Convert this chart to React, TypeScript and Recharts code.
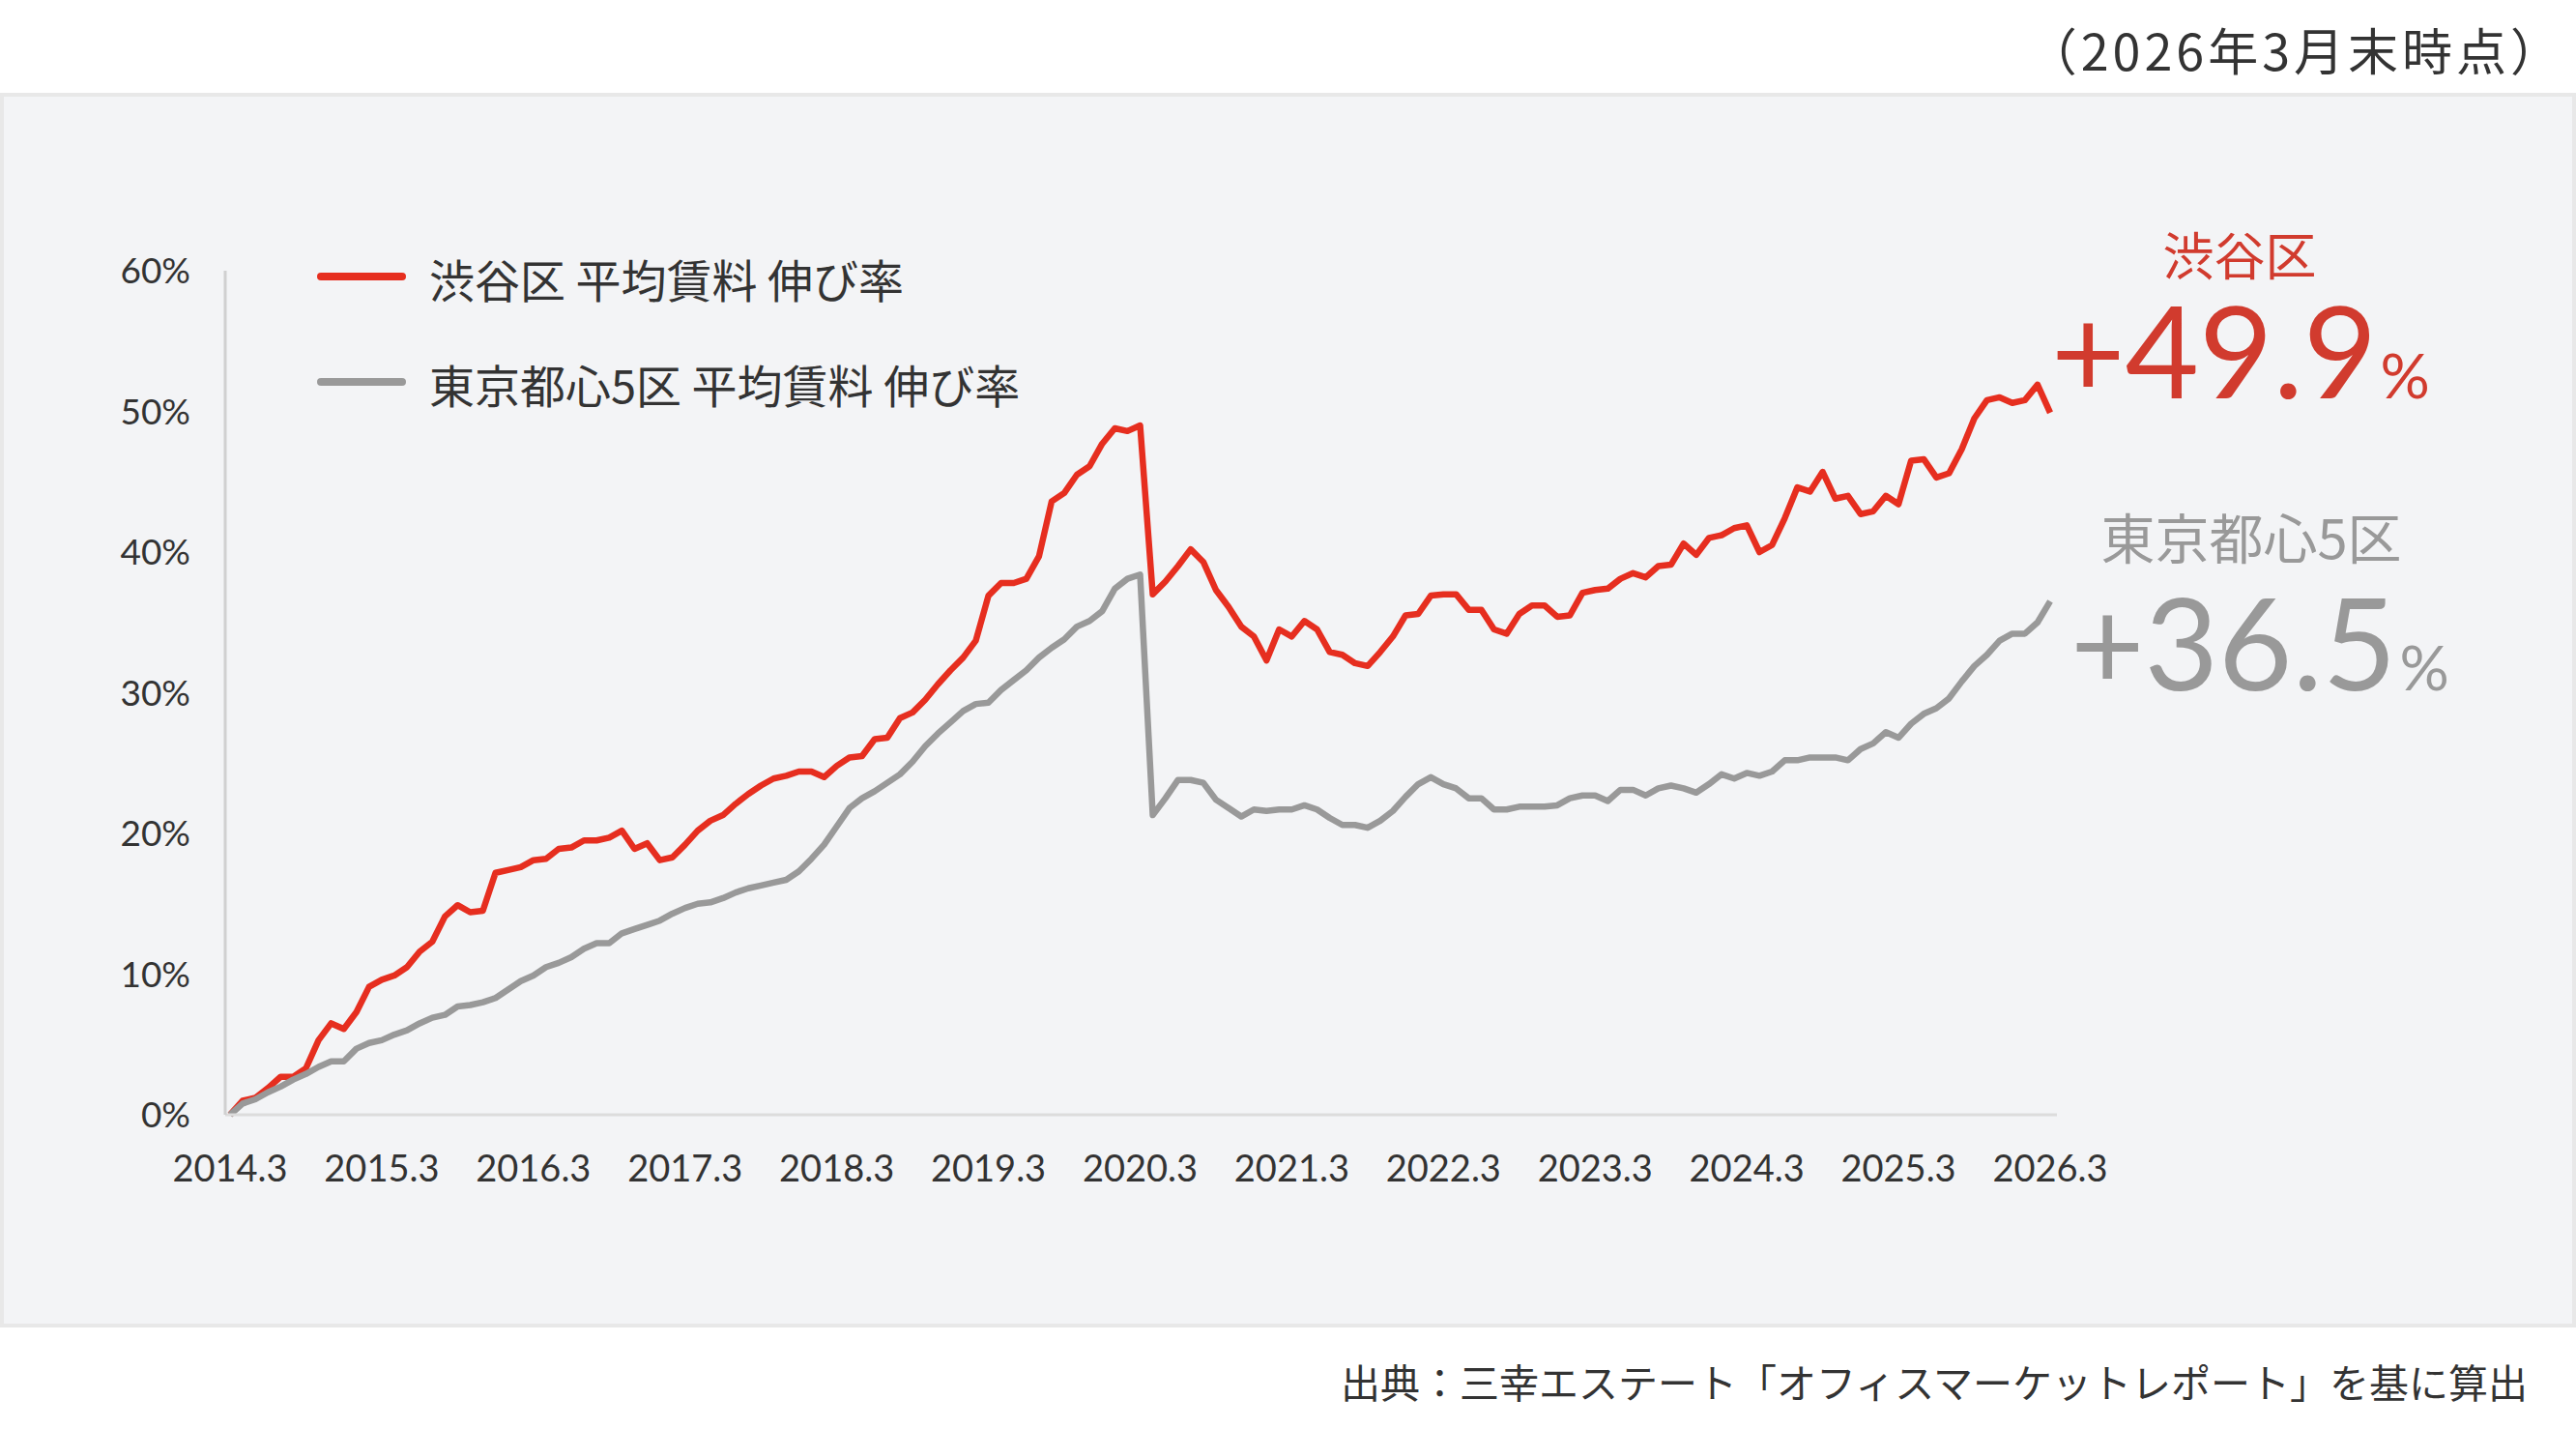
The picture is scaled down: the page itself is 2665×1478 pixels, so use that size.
import React from "react";
import { LineChart, Line, XAxis, YAxis } from "recharts";

// 月次の伸び率（%）2014.3 起点
const startYear = 2014;
const startMonth = 3;

const shibuya = [
  0, 1.0, 1.2, 1.9, 2.7, 2.7, 3.3, 5.3, 6.5, 6.1, 7.3, 9.1,
  9.6, 9.9, 10.5, 11.6, 12.3, 14.1, 14.9, 14.4, 14.5, 17.2, 17.4, 17.6,
  18.1, 18.2, 18.9, 19.0, 19.5, 19.5, 19.7, 20.2, 18.9, 19.3, 18.1, 18.3,
  19.2, 20.2, 20.9, 21.3, 22.1, 22.8, 23.4, 23.9, 24.1, 24.4, 24.4, 24.0,
  24.8, 25.4, 25.5, 26.7, 26.8, 28.2, 28.6, 29.5, 30.6, 31.6, 32.5, 33.7,
  36.9, 37.8, 37.8, 38.1, 39.7, 43.6, 44.2, 45.5, 46.1, 47.7, 48.8, 48.6,
  49.0, 37.0, 37.9, 39.0, 40.2, 39.3, 37.3, 36.1, 34.7, 34.0, 32.3, 34.5,
  34.0, 35.1, 34.5, 32.9, 32.7, 32.1, 31.9, 32.9, 34.0, 35.5, 35.6, 36.9,
  37.0, 37.0, 35.9, 35.9, 34.5, 34.2, 35.6, 36.2, 36.2, 35.4, 35.5, 37.1,
  37.3, 37.4, 38.1, 38.5, 38.2, 39.0, 39.1, 40.6, 39.8, 41.0, 41.2, 41.7,
  41.9, 40.0, 40.5, 42.4, 44.6, 44.3, 45.7, 43.8, 44.0, 42.7, 42.9, 44.0,
  43.4, 46.5, 46.6, 45.3, 45.6, 47.3, 49.5, 50.8, 51.0, 50.6, 50.8, 51.9,
  49.9,
];

const tokyo5 = [
  0, 0.8, 1.1, 1.6, 2.0, 2.5, 2.9, 3.4, 3.8, 3.8, 4.7, 5.1,
  5.3, 5.7, 6.0, 6.5, 6.9, 7.1, 7.7, 7.8, 8.0, 8.3, 8.9, 9.5,
  9.9, 10.5, 10.8, 11.2, 11.8, 12.2, 12.2, 12.9, 13.2, 13.5, 13.8, 14.3,
  14.7, 15.0, 15.1, 15.4, 15.8, 16.1, 16.3, 16.5, 16.7, 17.3, 18.2, 19.2,
  20.5, 21.8, 22.5, 23.0, 23.6, 24.2, 25.1, 26.2, 27.1, 27.9, 28.7, 29.2,
  29.3, 30.2, 30.9, 31.6, 32.5, 33.2, 33.8, 34.7, 35.1, 35.8, 37.4, 38.1,
  38.4, 21.3, 22.5, 23.8, 23.8, 23.6, 22.4, 21.8, 21.2, 21.7, 21.6, 21.7,
  21.7, 22.0, 21.7, 21.1, 20.6, 20.6, 20.4, 20.9, 21.6, 22.6, 23.5, 24.0,
  23.5, 23.2, 22.5, 22.5, 21.7, 21.7, 21.9, 21.9, 21.9, 22.0, 22.5, 22.7,
  22.7, 22.3, 23.1, 23.1, 22.7, 23.2, 23.4, 23.2, 22.9, 23.5, 24.2, 23.9,
  24.3, 24.1, 24.4, 25.2, 25.2, 25.4, 25.4, 25.4, 25.2, 26.0, 26.4, 27.2,
  26.8, 27.8, 28.5, 28.9, 29.6, 30.8, 31.9, 32.7, 33.7, 34.2, 34.2, 35.0,
  36.5,
];

const tickLabels = [
  "2014.3", "2015.3", "2016.3", "2017.3", "2018.3", "2019.3", "2020.3",
  "2021.3", "2022.3", "2023.3", "2024.3", "2025.3", "2026.3",
];

const yTicks = [0, 10, 20, 30, 40, 50, 60];

const RED = "#e62e1f";
const RED_TEXT = "#d13b2e";
const GRAY = "#999999";
const TEXT = "#333333";
const JP = "'Noto Sans CJK JP', 'Noto Sans', sans-serif";
const NUM = "Lato, 'Noto Sans CJK JP', sans-serif";

const data = shibuya.map((v, i) => {
  const m = startMonth - 1 + i;
  return {
    idx: i,
    month: `${startYear + Math.floor(m / 12)}.${(m % 12) + 1}`,
    shibuya: v,
    tokyo5: tokyo5[i],
  };
});

const xTicks = tickLabels.map((_, k) => k * 12);

export default function App() {
  return (
    <div
      style={{
        position: "absolute",
        left: 0,
        top: 0,
        width: 2665,
        height: 1478,
        background: "#ffffff",
        overflow: "hidden",
      }}
    >
      <div
        style={{
          position: "absolute",
          left: 0,
          top: 96,
          width: 2665,
          height: 1277,
          background: "#f3f4f6",
          border: "4px solid #e8e8e8",
          boxSizing: "border-box",
        }}
      />
      <div style={{ position: "absolute", left: 0, top: 0 }}>
        <LineChart
          width={2665}
          height={1478}
          data={data}
          margin={{ top: 280, right: 537, bottom: 265, left: 0 }}
        >
          <XAxis
            dataKey="idx"
            type="number"
            domain={[0, 144]}
            ticks={xTicks}
            tickFormatter={(v: number) => tickLabels[v / 12]}
            padding={{ left: 5, right: 7 }}
            height={60}
            axisLine={{ stroke: "#dcdcdc", strokeWidth: 3 }}
            tickLine={false}
            tickSize={0}
            tickMargin={42}
            tick={{ fill: TEXT, fontSize: 38, fontFamily: NUM }}
            interval={0}
          />
          <YAxis
            type="number"
            domain={[0, 60]}
            ticks={yTicks}
            tickFormatter={(v: number) => `${v}%`}
            width={233}
            axisLine={{ stroke: "#d0d0d0", strokeWidth: 3 }}
            tickLine={false}
            tickSize={0}
            tickMargin={36}
            tick={{ fill: TEXT, fontSize: 37, fontFamily: NUM }}
            interval={0}
          />
          <Line
            type="linear"
            dataKey="shibuya"
            stroke={RED}
            strokeWidth={6.5}
            strokeLinejoin="round"
            dot={false}
            activeDot={false}
            isAnimationActive={false}
          />
          <Line
            type="linear"
            dataKey="tokyo5"
            stroke={GRAY}
            strokeWidth={6.5}
            strokeLinejoin="round"
            dot={false}
            activeDot={false}
            isAnimationActive={false}
          />
        </LineChart>
      </div>
      <svg
        width={2665}
        height={1478}
        style={{ position: "absolute", left: 0, top: 0, pointerEvents: "none" }}
      >
        {/* 凡例 */}
        <line x1={332} y1={286} x2={416} y2={286} stroke={RED} strokeWidth={8} strokeLinecap="round" />
        <text x={444} y={287} fontSize={47} fill={TEXT} fontFamily={JP} dominantBaseline="central">
          渋谷区 平均賃料 伸び率
        </text>
        <line x1={332} y1={395} x2={416} y2={395} stroke={GRAY} strokeWidth={8} strokeLinecap="round" />
        <text x={444} y={396} fontSize={47} fill={TEXT} fontFamily={JP} dominantBaseline="central">
          東京都心5区 平均賃料 伸び率
        </text>

        {/* 右側の注記 */}
        <text x={2317} y={262} fontSize={53} fill={RED_TEXT} fontFamily={JP} textAnchor="middle" dominantBaseline="central">
          渋谷区
        </text>
        <text x={2122} y={412} fontSize={132} fill={RED_TEXT} fontFamily={NUM}>
          +49.9<tspan fontSize={64} dx={3}>%</tspan>
        </text>
        <text x={2329} y={553} fontSize={56} fill={GRAY} fontFamily={JP} textAnchor="middle" dominantBaseline="central">
          東京都心5区
        </text>
        <text x={2142} y={714} fontSize={132} fill={GRAY} fontFamily={NUM}>
          +36.5<tspan fontSize={64} dx={3}>%</tspan>
        </text>

        <text x={2653} y={50} fontSize={52} letterSpacing={4} fill={TEXT} fontFamily={JP} textAnchor="end" dominantBaseline="central">
          （2026年3月末時点）
        </text>
        <text x={2615} y={1428} fontSize={41} fill={TEXT} fontFamily={JP} textAnchor="end" dominantBaseline="central">
          出典：三幸エステート「オフィスマーケットレポート」を基に算出
        </text>
      </svg>
    </div>
  );
}
